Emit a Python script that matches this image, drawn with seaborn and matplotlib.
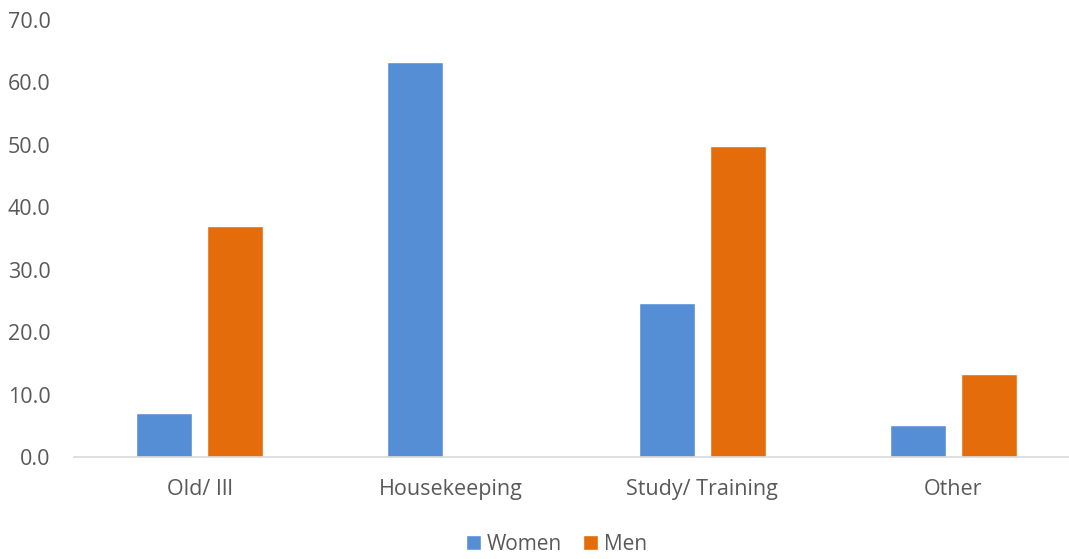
import matplotlib
matplotlib.use("Agg")
import matplotlib.pyplot as plt
import seaborn as sns
import pandas as pd
from matplotlib.ticker import FormatStrFormatter

categories = ["Old/ Ill", "Housekeeping", "Study/ Training", "Other"]
women = [7.1, 63.2, 24.7, 5.1]
men = [37.0, 0.0, 49.8, 13.3]
series = ["Women", "Men"]
colors = ["#558ED5", "#E46C0A"]

df = pd.DataFrame({
    "category": categories * 2,
    "value": women + men,
    "series": [series[0]] * len(categories) + [series[1]] * len(categories),
})

sns.set_theme(style="white")
plt.rcParams["font.family"] = ["Open Sans", "DejaVu Sans"]

fig = plt.figure(figsize=(10.69, 5.59), dpi=100)
ax = fig.add_axes([74 / 1069, 1 - 457 / 559, (1069 - 74) / 1069, (457 - 20) / 559])

sns.barplot(data=df, x="category", y="value", hue="series", order=categories,
            hue_order=series, palette=colors, width=0.566, gap=0.21,
            saturation=1, ax=ax, errorbar=None, legend=True)

ax.set_ylim(0, 70)
ax.set_xlim(-0.5, 3.46)
ax.set_yticks(range(0, 71, 10))
ax.yaxis.set_major_formatter(FormatStrFormatter("%.1f"))
ax.set_xlabel("")
ax.set_ylabel("")
for s in ["top", "right", "left"]:
    ax.spines[s].set_visible(False)
ax.spines["bottom"].set_color("#D9D9D9")
ax.spines["bottom"].set_linewidth(1.2)
ax.tick_params(axis="both", length=0, labelsize=15.5, colors="#595959")
ax.tick_params(axis="x", pad=16)
ax.tick_params(axis="y", pad=17)
ax.grid(False)

handles, labels = ax.get_legend_handles_labels()
ax.legend(handles, labels, loc="center", bbox_to_anchor=(0.485, -0.2),
          bbox_transform=ax.transAxes, ncol=2, frameon=False, fontsize=15,
          handlelength=0.7, handleheight=0.7, handletextpad=0.3, columnspacing=1.0,
          labelcolor="#595959", borderaxespad=0, borderpad=0)

fig.savefig("out.png", dpi=100)
